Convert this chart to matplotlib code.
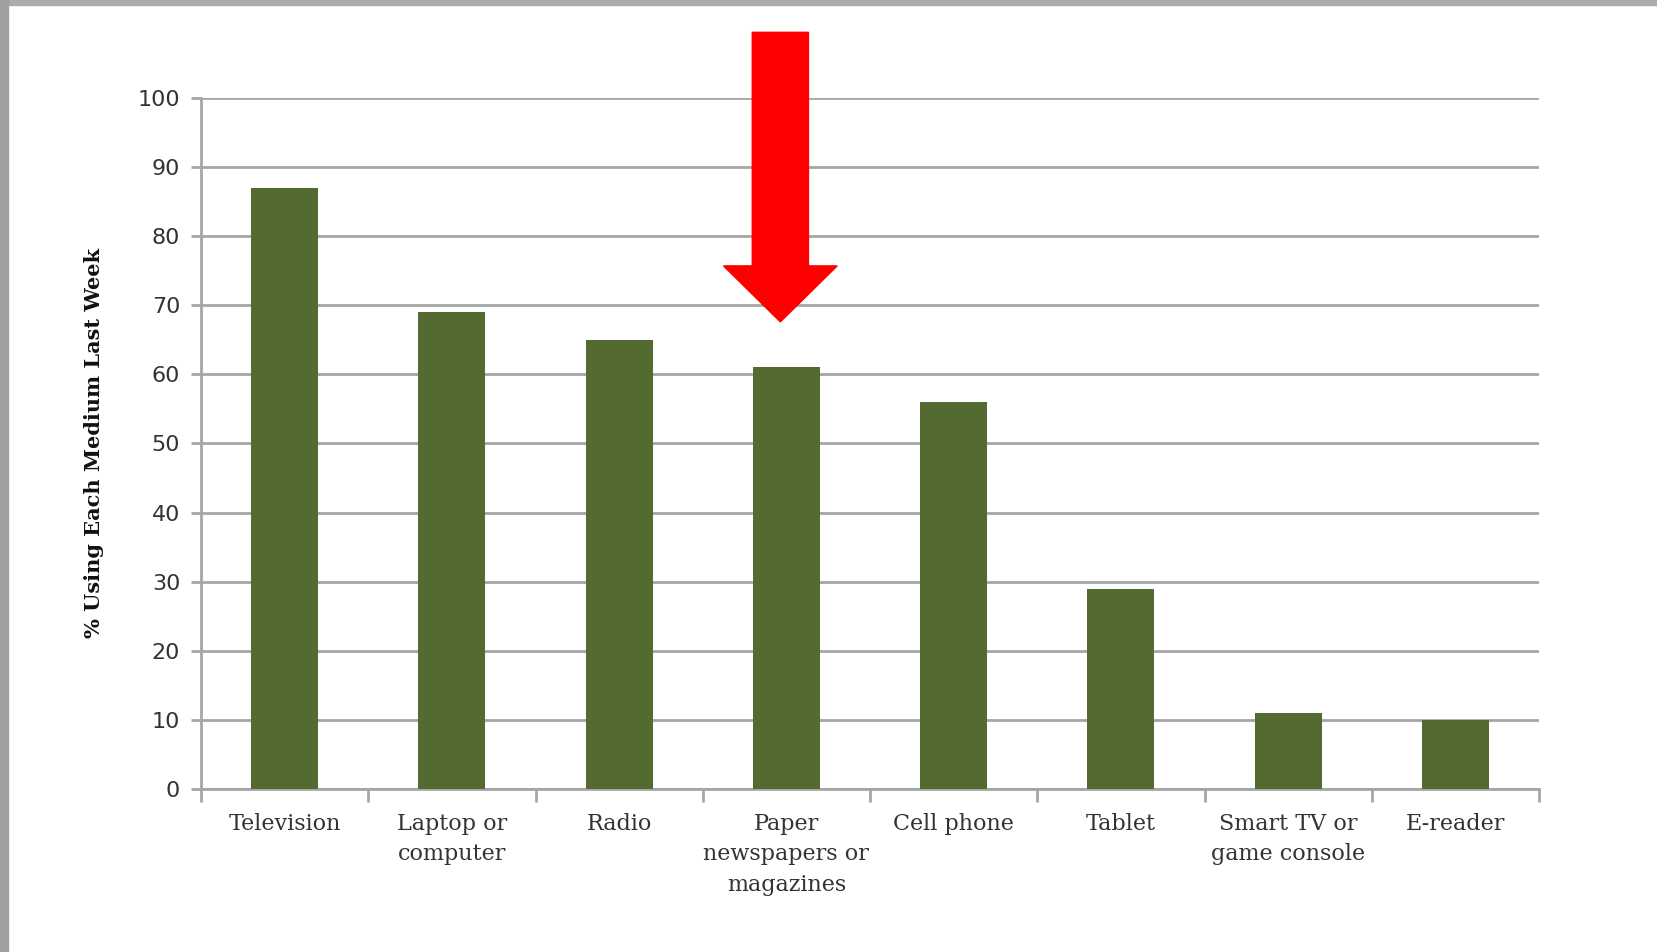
import numpy as np
import matplotlib
matplotlib.use("Agg")
import matplotlib.pyplot as plt
from matplotlib.patches import Polygon, Rectangle

# data
categories = ["Television", "Laptop or\ncomputer", "Radio", "Paper\nnewspapers or\nmagazines",
              "Cell phone", "Tablet", "Smart TV or\ngame console", "E-reader"]
values = [87, 69, 65, 61, 56, 29, 11, 10]
y_ticks = [0, 10, 20, 30, 40, 50, 60, 70, 80, 90, 100]
highlight = 3  # the bar the red arrow points at

bar_color = "#536a31"
grid_color = "#a6a6a6"
text_color = "#333333"

fig = plt.figure(figsize=(16.57, 9.52), dpi=100)
ax = fig.add_axes([0.1213, 0.1712, 0.8075, 0.7259])

x = np.arange(len(categories))
ax.bar(x, values, width=0.4, color=bar_color, zorder=3)

ax.set_xlim(-0.5, len(categories) - 0.5)
ax.set_ylim(0, 100)
ax.set_yticks(y_ticks)
ax.set_yticklabels([str(t) for t in y_ticks], fontsize=16, color=text_color, family="DejaVu Sans")
ax.yaxis.grid(True, color=grid_color, linewidth=2, zorder=0)
ax.set_axisbelow(True)

# category labels in the middle, ticks at the boundaries
ax.set_xticks(x)
ax.set_xticklabels(categories, fontsize=16, color=text_color, family="DejaVu Serif", linespacing=1.5)
ax.set_xticks(np.arange(-0.5, len(categories)), minor=True)
ax.tick_params(axis="x", which="major", length=0, pad=17)
ax.tick_params(axis="x", which="minor", length=9, width=2, color=grid_color)
ax.tick_params(axis="y", length=7, width=2, color=grid_color, pad=8)

for side in ["top", "right"]:
    ax.spines[side].set_visible(False)
for side in ["left", "bottom"]:
    ax.spines[side].set_color(grid_color)
    ax.spines[side].set_linewidth(2)

ax.set_ylabel("% Using Each Medium Last Week", fontsize=15, fontweight="bold",
              family="DejaVu Serif", color="#111111", labelpad=24)

# red arrow above the highlighted bar
cx = x[highlight] - 0.036
tip = values[highlight] + 6.6
head = tip + 8.1
top = 109.5
sw, hw = 0.168, 0.34
arrow = Polygon([(cx - sw, top), (cx + sw, top), (cx + sw, head), (cx + hw, head),
                 (cx, tip), (cx - hw, head), (cx - sw, head)],
                closed=True, color="#ff0000", clip_on=False, zorder=5)
ax.add_patch(arrow)

# grey frame strips along top and left edges
fig.patches.append(Rectangle((0, 1 - 5 / 952), 1, 5 / 952, transform=fig.transFigure,
                             color="#acacac", zorder=0))
fig.patches.append(Rectangle((0, 0), 8 / 1657, 1, transform=fig.transFigure,
                             color="#a0a0a0", zorder=0))

fig.savefig("out.png", dpi=100)
